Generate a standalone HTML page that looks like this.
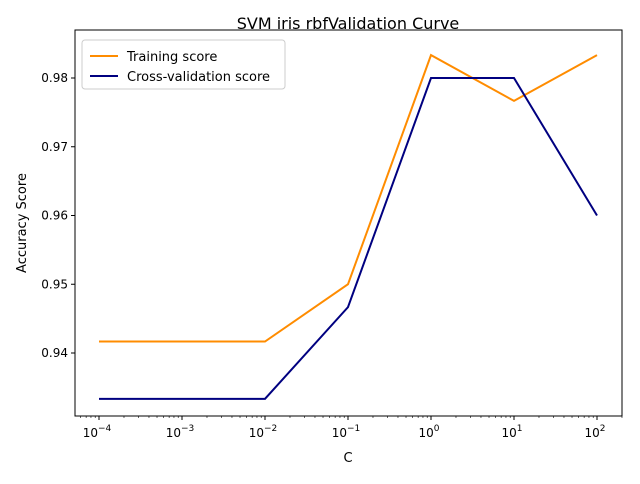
<!DOCTYPE html>
<html><head><meta charset="utf-8"><style>
body{margin:0;background:#fff;font-family:"DejaVu Sans","Liberation Sans",sans-serif}
</style></head><body>
<svg id="chart" width="640" height="480" xmlns="http://www.w3.org/2000/svg">
<rect width="640" height="480" fill="#fff"/>
<text x="348" y="29" text-anchor="middle" font-size="16">SVM iris rbfValidation Curve</text>
<g id="axes"></g>
<g id="series"></g>
<rect x="75" y="30" width="547" height="386" fill="none" stroke="#000" stroke-width="1"/>
<g>
<rect x="82" y="40" width="203" height="49" rx="3" fill="#fff" stroke="#ccc"/>
<line x1="90" y1="56" x2="118" y2="56" stroke="#ff8c00" stroke-width="2"/>
<text x="127" y="61" font-size="13">Training score</text>
<line x1="90" y1="76" x2="118" y2="76" stroke="#000080" stroke-width="2"/>
<text x="127" y="81" font-size="13">Cross-validation score</text>
</g>
<text x="348" y="462" text-anchor="middle" font-size="13">C</text>
<text x="26" y="223" text-anchor="middle" font-size="13" transform="rotate(-90 26 223)">Accuracy Score</text>
</svg>
<script>
const exponents=[-4,-3,-2,-1,0,1,2];
const trainingScores=[0.94167,0.94167,0.94167,0.95,0.98333,0.97667,0.98333];
const cvScores=[0.93333,0.93333,0.93333,0.94667,0.98,0.98,0.96];
const yTicks=[0.94,0.95,0.96,0.97,0.98];
const NS='http://www.w3.org/2000/svg';
function xs(e){return 99+(e+4)*83;}
function ys(v){return 353-(v-0.94)*6875;}
const axes=document.getElementById('axes'),series=document.getElementById('series');
function mk(t,a,p){const el=document.createElementNS(NS,t);for(const k in a)el.setAttribute(k,a[k]);p.appendChild(el);return el;}
exponents.forEach(e=>{
  const x=xs(e);
  const t=mk('line',{x1:x,y1:416,x2:x,y2:420,stroke:'#000'},axes);
  
  
  const tx=mk('text',{x:x-2,y:437,'text-anchor':'middle','font-size':'12'},axes);
  
  
  tx.innerHTML='10<tspan dy="-6" font-size="9">'+(e<0?'\u2212'+(-e):e)+'</tspan>';
});
for(let e=-5;e<=2;e++){for(let m=2;m<=9;m++){const v=e+Math.log10(m);const x=xs(v);if(x<75||x>622)continue;
  const t=mk('line',{x1:x,y1:416,x2:x,y2:418,stroke:'#000','stroke-width':0.6},axes);
  
  }}
yTicks.forEach(v=>{
  const y=ys(v);
  const t=mk('line',{x1:71,y1:y,x2:75,y2:y,stroke:'#000'},axes);
  
  
  const tx=mk('text',{x:68,y:y+4,'text-anchor':'end','font-size':'12'},axes);
  
  
  tx.textContent=v.toFixed(2);
});
function line(vals,color,name){
  const pts=vals.map((v,i)=>xs(exponents[i])+','+ys(v)).join(' ');
  const p=mk('polyline',{points:pts,fill:'none',stroke:color,'stroke-width':2},series);
  
  
}
line(trainingScores,'#ff8c00','training-score-line');
line(cvScores,'#000080','cv-score-line');
</script>
</body></html>
